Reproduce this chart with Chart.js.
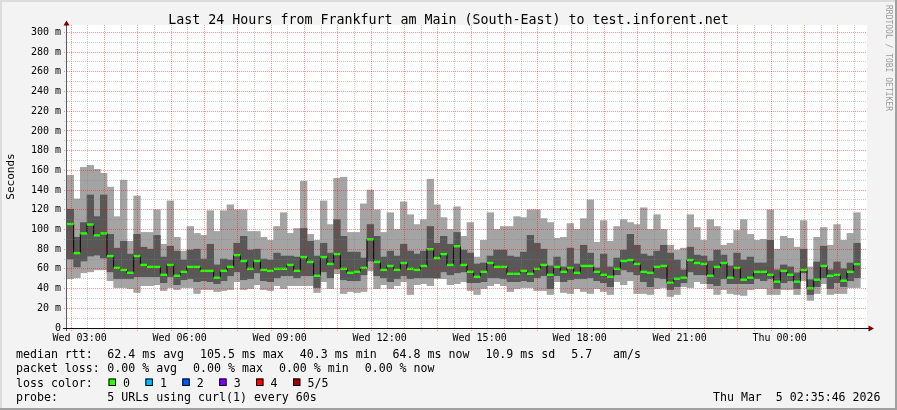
<!DOCTYPE html>
<html><head><meta charset="utf-8">
<script src="https://cdn.jsdelivr.net/npm/chart.js@4.4.1/dist/chart.umd.min.js"></script>
<style>html,body{margin:0;padding:0;background:#f3f3f3;}canvas{display:block;}</style>
</head><body>
<canvas id="c" width="897" height="410"></canvas>
<script>
// ---- data (ms), one value per 12-minute step ----
const minP1 = [50,51,56,57,59,59,48,41,41,40,36,43,43,44,38,41,39,41,41,35,39,39,37,38,
39,47,39,40,44,39,38,43,40,43,43,43,43,36,47,40,55,35,37,36,37,58,40,44,
40,43,47,34,44,45,43,50,50,44,45,47,38,34,40,43,45,43,37,40,41,41,38,38,
34,47,36,35,40,37,35,40,37,34,47,44,48,35,35,34,40,41,32,34,42,41,47,45,
40,34,39,35,34,33,39,40,40,34,34,39,39,34,48,28,35,45,34,35,35,41,41];
const lowP2 = [70,62,68,73,74,71,57,50,50,50,52,52,52,52,46,52,44,49,50,47,48,47,45,48,
53,57,49,50,56,48,47,51,53,53,51,53,53,41,57,51,60,49,48,48,54,68,53,51,
47,50,53,50,51,51,51,51,57,54,56,57,46,46,47,51,51,50,47,47,48,47,51,53,
40,53,47,49,50,50,51,48,46,42,54,59,57,54,47,42,51,50,39,42,46,57,54,54,
45,43,50,45,45,45,45,50,48,50,40,46,48,40,56,34,42,51,40,46,42,48,51];
const median = [105.5,76,96,105,94,96,73,61,59,56,73,64,62,62,54,64,53,57,62,62,58,58,51,58,
62,74,68,60,68,59,58,60,60,64,58,72,67,53,72,65,75,60,56,57,61,90,67,59,
63,59,66,60,59,63,80,71,75,64,83,64,57,52,57,66,62,62,55,55,58,55,60,64,
54,62,57,61,56,63,63,57,54,52,60,68,69,65,57,56,62,63,46,50,51,69,66,65,
53,62,66,51,61,49,51,57,57,54,47,58,54,47,59,40.3,49,63,53,54,48,57,64.8];
const highP4 = [120.5,92,107,135,113,135,95,81,88,75,95,82,80,94,72,83,78,69,79,80,70,85,64,70,
69,86,93,79,80,70,69,76,73,73,72,101,88,73,86,76,110,93,77,77,71,105,93,72,
78,73,85,78,75,78,103,86,93,85,97,79,76,65,66,73,79,79,73,72,77,94,86,80,
63,72,62,81,65,84,76,61,75,62,71,79,95,84,75,73,78,84,76,69,59,82,74,73,
68,79,74,63,76,69,72,66,66,89,59,64,62,56,80,49,67,83,59,67,60,66,86];
const maxP5 = [155,131,163,165,161,157,143,113,150,88,134,97,97,120,85,129,92,78,103,96,94,119,98,119,
125,120,120,98,98,92,89,103,117,96,101,149,95,89,129,105,152,153,97,97,126,140,120,97,
117,100,128,115,105,110,151,125,112,100,123,93,107,72,89,117,100,103,103,113,112,120,120,111,
107,91,92,106,100,111,130,87,109,88,103,110,107,105,122,100,115,100,84,79,81,115,102,89,
110,103,84,86,99,110,95,89,90,120,80,93,91,82,109,62,92,102,84,105,89,96,117];

// time axis: minutes after Wed 00:00
const firstStepMinute = 163.3;
const stepMinutes = 12;
const axisStartMinute = 157.3;
const axisEndMinute = 1597.3;
const xLabelMinutes = [180,360,540,720,900,1080,1260,1440];
const xLabelTexts = ["Wed 03:00","Wed 06:00","Wed 09:00","Wed 12:00","Wed 15:00","Wed 18:00","Wed 21:00","Thu 00:00"];
const yMax = 307.5;

const titleText = "Last 24 Hours from Frankfurt am Main (South-East) to test.inforent.net";
const rttItems = ["median rtt:", "62.4 ms avg", "105.5 ms max", "40.3 ms min", "64.8 ms now", "10.9 ms sd", "5.7   am/s"];
const lossItems = ["packet loss:", "0.00 % avg", "0.00 % max", "0.00 % min", "0.00 % now"];
const lossLabels = ["0","1","2","3","4","5/5"];
const lossColors = ["#26ff00","#00b8ff","#0059ff","#7e00ff","#ff0000","#a10000"];
const probeItems = ["probe:", "5 URLs using curl(1) every 60s"];
const stampText = "Thu Mar  5 02:35:46 2026";

// ---- build ----
const times = median.map((_, i) => firstStepMinute + i * stepMinutes);
const outer = times.map((t, i) => ({x: t, y: [minP1[i], maxP5[i]]}));
const inner = times.map((t, i) => ({x: t, y: [lowP2[i], highP4[i]]}));
const med = times.map((t, i) => ({x: t, y: median[i]}));

const MONO = '"DejaVu Sans Mono", monospace';
const majorCol = 'rgba(255,0,0,0.42)';
const minorCol = 'rgba(128,128,128,0.40)';

function legendRow(c, items, y) {
  // first item at the left margin, values column starts at 107.3, items glued by 16px
  c.fillText(items[0], 16, y);
  let x = 107.3;
  for (let k = 1; k < items.length; k++) {
    c.fillText(items[k], x, y);
    x += c.measureText(items[k]).width + 16;
  }
}

const decor = {
  id: 'decor',
  beforeDraw(chart) {
    const c = chart.ctx, a = chart.chartArea;
    c.save();
    c.fillStyle = '#f3f3f3'; c.fillRect(0, 0, 897, 410);
    c.fillStyle = '#dcdcdc'; c.fillRect(0, 0, 897, 2); c.fillRect(0, 0, 2, 410);
    c.fillStyle = '#a0a0a0'; c.fillRect(0, 408, 897, 2); c.fillRect(895, 0, 2, 410);
    c.fillStyle = '#ffffff'; c.fillRect(a.left, a.top, a.right - a.left, a.bottom - a.top);
    c.restore();
  },
  afterDraw(chart) {
    const c = chart.ctx, a = chart.chartArea;
    c.save();
    // axes
    c.lineWidth = 1;
    c.strokeStyle = '#5a5a5a';
    c.beginPath(); c.moveTo(a.left - 0.5, a.bottom + 3); c.lineTo(a.left - 0.5, a.top - 1); c.stroke();
    c.strokeStyle = '#101010';
    c.beginPath(); c.moveTo(a.left - 4, a.bottom + 0.5); c.lineTo(a.right + 2, a.bottom + 0.5); c.stroke();
    c.fillStyle = '#7f0000';
    c.beginPath(); c.moveTo(a.left - 3.5, a.top + 0.5); c.lineTo(a.left + 2.5, a.top + 0.5); c.lineTo(a.left - 0.5, a.top - 4.5); c.closePath(); c.fill();
    c.beginPath(); c.moveTo(a.right + 1.5, a.bottom - 2.5); c.lineTo(a.right + 1.5, a.bottom + 3.5); c.lineTo(a.right + 7, a.bottom + 0.5); c.closePath(); c.fill();
    // title
    c.fillStyle = '#000';
    c.font = '13.3px ' + MONO; c.textAlign = 'center'; c.textBaseline = 'alphabetic';
    c.fillText(titleText, 448.5, 23.5);
    // y title
    c.save();
    c.translate(11, (a.top + a.bottom) / 2); c.rotate(-Math.PI / 2);
    c.font = '11px ' + MONO; c.textAlign = 'center'; c.textBaseline = 'middle';
    c.fillText('Seconds', 0, 0);
    c.restore();
    // watermark
    c.save();
    c.translate(888, 5); c.rotate(Math.PI / 2);
    c.font = '8px ' + MONO; c.textAlign = 'left'; c.textBaseline = 'middle'; c.fillStyle = '#9a9a9a';
    c.fillText('RRDTOOL / TOBI OETIKER', 0, 0);
    c.restore();
    // legend
    c.font = '11.6px ' + MONO; c.textAlign = 'left'; c.textBaseline = 'alphabetic'; c.fillStyle = '#000';
    legendRow(c, rttItems, 358.3);
    legendRow(c, lossItems, 372.3);
    c.fillText('loss color:', 16, 386.5);
    lossLabels.forEach((lab, k) => {
      const bx = 108.5 + k * 36.9;
      c.fillStyle = lossColors[k]; c.fillRect(bx, 378.5, 7, 7);
      c.strokeStyle = '#000'; c.lineWidth = 1; c.strokeRect(bx + 0.5, 378.5 + 0.5, 6.5, 6.5);
      c.fillStyle = '#000'; c.fillText(lab, bx + 14.5, 386.5);
    });
    legendRow(c, probeItems, 400.5);
    c.textAlign = 'right';
    c.fillText(stampText, 880.5, 400.5);
    c.restore();
  }
};

new Chart(document.getElementById('c'), {
  type: 'bar',
  data: { datasets: [
    { type: 'bar', data: outer, backgroundColor: '#a4a4a4', borderWidth: 0, grouped: false,
      barPercentage: 1, categoryPercentage: 1, order: 3 },
    { type: 'bar', data: inner, backgroundColor: '#585858', borderWidth: 0, grouped: false,
      barPercentage: 1, categoryPercentage: 1, order: 2 },
    { type: 'line', data: med, borderColor: '#000000', borderWidth: 1, stepped: 'middle',
      pointRadius: 0, fill: false, order: 1 },
    { type: 'line', data: med, showLine: false, pointStyle: 'line', pointRadius: 3.34,
      pointBorderWidth: 2.4, pointBorderColor: '#26ff00', pointBackgroundColor: '#26ff00', order: 0 }
  ]},
  options: {
    responsive: false, animation: false, events: [],
    layout: { padding: { left: 0, top: 25, right: 30, bottom: 0 } },
    plugins: { legend: { display: false }, tooltip: { enabled: false } },
    scales: {
      x: {
        type: 'linear', min: axisStartMinute, max: axisEndMinute, offset: false,
        afterBuildTicks(s) {
          const t = []; for (let v = 180; v < axisEndMinute; v += 30) t.push({value: v}); s.ticks = t;
        },
        afterFit(s) { s.height = 82; },
        grid: { z: 1, drawTicks: true, tickLength: 3, lineWidth: 1,
          color: ctx => (ctx.tick && ctx.tick.value % 60 === 0) ? majorCol : minorCol,
          tickColor: ctx => (ctx.tick && ctx.tick.value % 60 === 0) ? majorCol : minorCol,
          tickBorderDash: [1, 1] },
        border: { display: false, dash: [1, 1] },
        ticks: { autoSkip: false, maxRotation: 0, padding: 1, color: '#000',
          font: { family: 'DejaVu Sans Mono', size: 10 },
          callback: v => { const k = xLabelMinutes.indexOf(v); return k >= 0 ? xLabelTexts[k] : ''; } }
      },
      y: {
        type: 'linear', min: 0, max: yMax,
        afterBuildTicks(s) {
          const t = []; for (let v = 0; v <= 300; v += 10) t.push({value: v}); s.ticks = t;
        },
        afterFit(s) { s.width = 67; },
        grid: { z: 1, drawTicks: true, tickLength: 3, lineWidth: 1,
          color: ctx => (ctx.tick && ctx.tick.value % 20 === 0) ? majorCol : minorCol,
          tickColor: ctx => (ctx.tick && ctx.tick.value % 20 === 0) ? majorCol : minorCol,
          tickBorderDash: [1, 1] },
        border: { display: false, dash: [1, 1] },
        ticks: { autoSkip: false, padding: 3, color: '#000',
          font: { family: 'DejaVu Sans Mono', size: 10 },
          callback: v => (v % 20 === 0) ? (v === 0 ? '0' : v + ' m') : '' }
      }
    }
  },
  plugins: [decor]
});
</script>
</body></html>
